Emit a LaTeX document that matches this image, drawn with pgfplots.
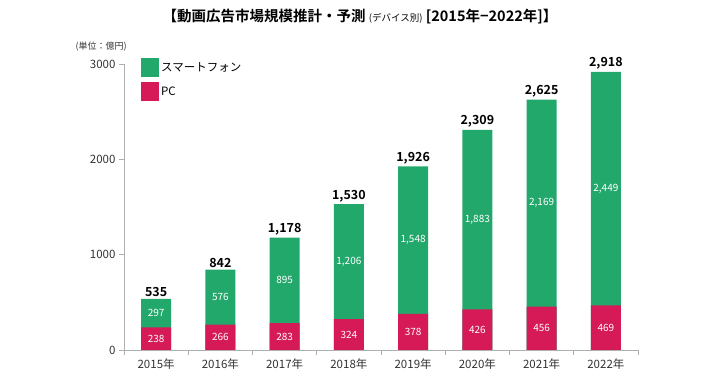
\documentclass[border=0pt]{standalone}
\usepackage{pgfplots}
\pgfplotsset{compat=1.18}
\usepackage{pgfplotstable}
\usepackage{fontspec}
\setmainfont{Noto Sans CJK JP}[BoldFont={Noto Sans CJK JP Bold}]
\definecolor{spg}{RGB}{35,168,108}
\definecolor{pcc}{RGB}{214,26,88}
\definecolor{axgray}{RGB}{175,175,175}
\pgfplotstableread{
x pc sp total
0 238 297 535
1 266 576 842
2 283 895 1178
3 324 1206 1530
4 378 1548 1926
5 426 1883 2309
6 456 2169 2625
7 469 2449 2918
}\data
\begin{document}
\begin{tikzpicture}[x=1pt,y=1pt]
\path[use as bounding box] (0,0) rectangle (720,377);
\begin{axis}[
  at={(124pt,27pt)}, anchor=south west,
  scale only axis, width=514pt, height=286pt,
  xmin=-0.5, xmax=7.5, ymin=0, ymax=3000,
  axis x line*=bottom, axis y line*=left,
  x axis line style={-}, y axis line style={-},
  axis line style={axgray, line width=0.8pt},
  xtick={0,...,7},
  xticklabels={2015年,2016年,2017年,2018年,2019年,2020年,2021年,2022年},
  major x tick style={draw=none},
  minor xtick={-0.5,0.5,...,7.5},
  ytick={0,1000,2000,3000},
  tick align=outside,
  major tick length=5pt, minor tick length=5pt,
  tick style={axgray, line width=0.8pt},
  scaled y ticks=false,
  y tick label style={/pgf/number format/1000 sep={}},
  /pgf/number format/assume math mode=true,
  tick label style={font=\fontsize{11.5}{13}\selectfont, text=black!80},
  legend image code/.code={\path[#1] (0pt,-9.5pt) rectangle (18pt,9.5pt);},
  legend style={at={(0,1)}, anchor=north west, xshift=17pt, yshift=6pt,
    draw=none, fill=none, inner sep=0pt, row sep=5pt,
    font=\fontsize{11.5}{13}\selectfont},
  legend cell align=left,
]
% green bars: full totals (smartphone on top of PC)
\addplot[ybar, bar width=30pt, bar shift=0pt, fill=spg, draw=none]
  table[x=x, y=total]{\data};
\addlegendentry{スマートフォン}
\addplot[ybar, bar width=30pt, bar shift=0pt, fill=pcc, draw=none]
  table[x=x, y=pc]{\data};
\addlegendentry{PC}
% labels
\addplot[draw=none, mark=none, forget plot, nodes near coords, point meta=\thisrow{pc},
  every node near coord/.style={anchor=center, text=white,
    font=\fontsize{10}{12}\selectfont}]
  table[x=x, y expr=\thisrow{pc}/2]{\data};
\addplot[draw=none, mark=none, forget plot, nodes near coords, point meta=\thisrow{sp},
  every node near coord/.style={anchor=center, text=white,
    font=\fontsize{10}{12}\selectfont}]
  table[x=x, y expr=\thisrow{pc}+\thisrow{sp}/2]{\data};
\addplot[draw=none, mark=none, forget plot, nodes near coords, point meta=\thisrow{total},
  every node near coord/.style={anchor=south, text=black,
    font=\bfseries\fontsize{12.5}{14}\selectfont, inner sep=2pt}]
  table[x=x, y=total]{\data};
\end{axis}
\node[font=\fontsize{9}{10}\selectfont, text=black!80, anchor=west] at (72,330) {(単位：億円)};
\node[anchor=center] at (360,360) {\bfseries\fontsize{14.5}{16}\selectfont 【動画広告市場規模推計・予測 {\mdseries\fontsize{9.5}{11}\selectfont (デバイス別)} [2015年−2022年]】};
\end{tikzpicture}
\end{document}
